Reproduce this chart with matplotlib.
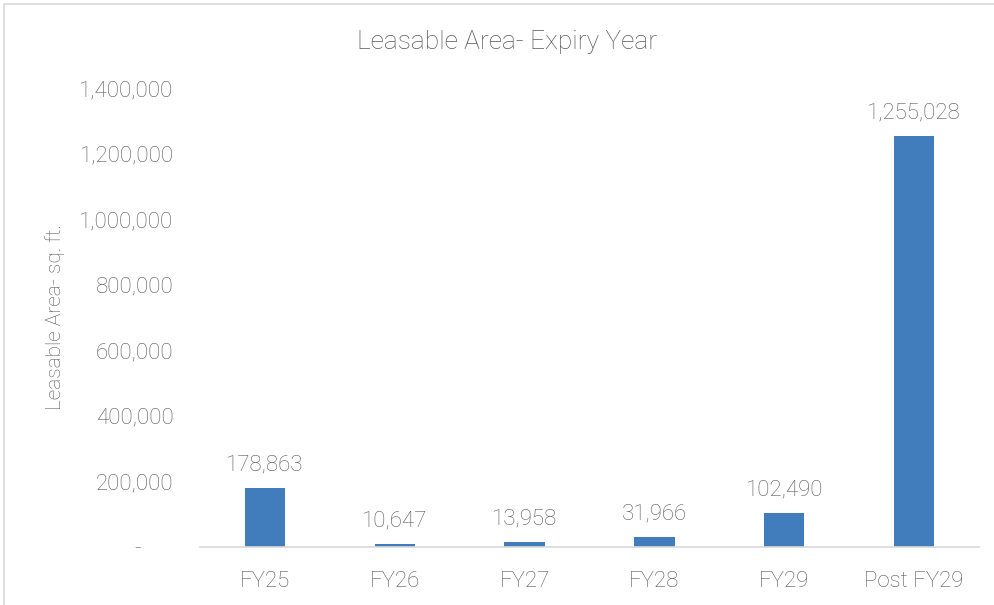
import matplotlib.pyplot as plt
from matplotlib.patches import Rectangle
from matplotlib.ticker import FuncFormatter

categories = ['FY25', 'FY26', 'FY27', 'FY28', 'FY29', 'Post FY29']
area = [178863, 10647, 13958, 31966, 102490, 1255028]
yticks = [0, 200000, 400000, 600000, 800000, 1000000, 1200000, 1400000]

BAR = '#417CBD'
TXT = '#595959'
plt.rcParams['font.family'] = ['Roboto', 'DejaVu Sans']
plt.rcParams['font.weight'] = 'light'

fig = plt.figure(figsize=(9.95, 6.05), dpi=100)
# outer chart border
fig.patches.append(Rectangle((4/995, -0.01), 1.0, 1 - 4/605 + 0.01, transform=fig.transFigure,
                             fill=False, edgecolor='#D9D9D9', linewidth=1.2))

ax = fig.add_axes([200/995, 1 - 547/605, 779/995, 459/605])
x = list(range(len(categories)))
bars = ax.bar(x, area, width=0.31, color=BAR, zorder=2)
for b, v in zip(bars, area):
    ax.annotate(f'{v:,}', (b.get_x() + b.get_width()/2, v), xytext=(0, 9),
                textcoords='offset points', ha='center', va='bottom',
                fontsize=16, color=TXT, fontweight='light')

ax.set_xlim(-0.5, len(categories) - 0.5)
ax.set_ylim(0, 1400000)
ax.set_yticks(yticks)
ax.yaxis.set_major_formatter(FuncFormatter(lambda v, p: '-      ' if v == 0 else f'{int(v):,}'))
ax.set_xticks(x)
ax.set_xticklabels(categories)
ax.tick_params(axis='both', length=0, labelsize=16, labelcolor=TXT)
ax.tick_params(axis='y', pad=19)
ax.tick_params(axis='x', pad=17)
for s in ['top', 'right', 'left']:
    ax.spines[s].set_visible(False)
ax.spines['bottom'].set_color('#D9D9D9')
ax.spines['bottom'].set_linewidth(1.2)

ax.set_ylabel('Leasable Area- sq. ft.', fontsize=15, color=TXT, fontweight='light', labelpad=10)
fig.text(507/995, 1 - 42/605, 'Leasable Area- Expiry Year', ha='center', va='center',
         fontsize=19, color=TXT, fontweight='light')

fig.savefig('out.png', dpi=100)
